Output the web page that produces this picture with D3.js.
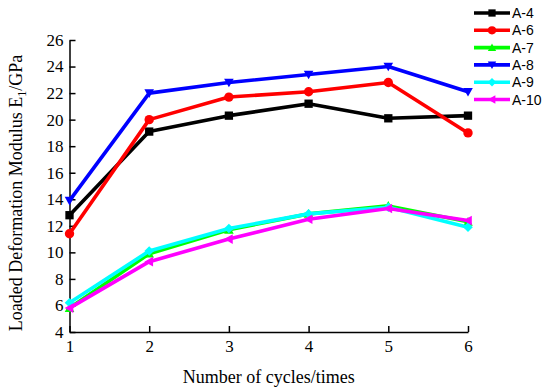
<!DOCTYPE html>
<html>
<head>
<meta charset="utf-8">
<script src="https://cdn.jsdelivr.net/npm/d3@7"></script>
<style>
  body { margin: 0; background: #fff; }
  svg { display: block; }
</style>
</head>
<body>
<div id="chart"></div>
<script>
// data
var cycles = [1, 2, 3, 4, 5, 6];
var a4  = [12.8, 19.1, 20.3, 21.2, 20.1, 20.3];
var a6  = [11.4, 20.0, 21.7, 22.1, 22.8, 19.0];
var a7  = [5.8, 9.9, 11.7, 12.9, 13.5, 12.3];
var a8  = [13.9, 22.0, 22.8, 23.4, 24.0, 22.1];
var a9  = [6.2, 10.1, 11.8, 12.9, 13.4, 11.9];
var a10 = [5.8, 9.3, 11.0, 12.5, 13.3, 12.4];
var yTicks = [4, 6, 8, 10, 12, 14, 16, 18, 20, 22, 24, 26];

var series = [
  { name: 'A-4',  values: a4,  color: '#000000', marker: d3.symbolSquare },
  { name: 'A-6',  values: a6,  color: '#ff0000', marker: d3.symbolCircle },
  { name: 'A-7',  values: a7,  color: '#00ff00', marker: 'tri-up' },
  { name: 'A-8',  values: a8,  color: '#0000ff', marker: 'tri-down' },
  { name: 'A-9',  values: a9,  color: '#00ffff', marker: 'diamond' },
  { name: 'A-10', values: a10, color: '#ff00ff', marker: 'tri-left' }
];

var width = 550, height = 390;
var margin = { top: 40, right: 82, bottom: 58, left: 69.5 };
var serif = '"Liberation Serif", "Times New Roman", serif';

var svg = d3.select('#chart')
  .append('svg')
  .attr('width', width)
  .attr('height', height);

var x = d3.scaleLinear().domain([1, 6]).range([margin.left, width - margin.right]);
var y = d3.scaleLinear().domain([4, 26]).range([height - margin.bottom, margin.top]);

// axes, ticks pointing inward
var xAxis = svg.append('g')
  .attr('transform', 'translate(0,' + (height - margin.bottom) + ')')
  .call(d3.axisBottom(x).tickValues(cycles).tickFormat(d3.format('d')).tickSizeInner(-6).tickSizeOuter(0).tickPadding(8));

var yAxis = svg.append('g')
  .attr('transform', 'translate(' + margin.left + ',0)')
  .call(d3.axisLeft(y).tickValues(yTicks).tickSizeInner(-6).tickSizeOuter(0).tickPadding(6));

[xAxis, yAxis].forEach(function(a) {
  a.select('.domain').attr('stroke', '#000').attr('stroke-width', 1.5);
  a.selectAll('.tick line').attr('stroke', '#000').attr('stroke-width', 1.5);
  a.selectAll('.tick text')
    .attr('fill', '#000')
    .style('font-family', serif)
    .style('font-size', '17px');
});

// axis titles
svg.append('text')
  .attr('x', (x(1) + x(6)) / 2)
  .attr('y', 383)
  .attr('text-anchor', 'middle')
  .style('font-family', serif)
  .style('font-size', '18px')
  .text('Number of cycles/times');

var yTitle = svg.append('text')
  .attr('transform', 'translate(22,' + ((y(4) + y(26)) / 2 + 7) + ') rotate(-90)')
  .attr('text-anchor', 'middle')
  .style('font-family', serif)
  .style('font-size', '18px');
yTitle.append('tspan').text('Loaded Deformation Modulus E');
yTitle.append('tspan').attr('dy', 4).style('font-size', '12px').text('1');
yTitle.append('tspan').attr('dy', -4).text('/GPa');

// marker shapes
function markerPath(m, s) {
  if (m === 'tri-up') return 'M0,' + (-s) + 'L' + s + ',' + (s * 0.8) + 'L' + (-s) + ',' + (s * 0.8) + 'Z';
  if (m === 'tri-down') return 'M0,' + s + 'L' + s + ',' + (-s * 0.8) + 'L' + (-s) + ',' + (-s * 0.8) + 'Z';
  if (m === 'tri-left') return 'M' + (-s) + ',0L' + (s * 0.8) + ',' + (-s) + 'L' + (s * 0.8) + ',' + s + 'Z';
  if (m === 'diamond') return 'M0,' + (-s) + 'L' + s + ',0L0,' + s + 'L' + (-s) + ',0Z';
  return d3.symbol().type(m).size(s * s * 3)();
}

var line = d3.line()
  .x(function(d, i) { return x(cycles[i]); })
  .y(function(d) { return y(d); });

var groups = svg.selectAll('g.series')
  .data(series)
  .enter()
  .append('g')
  .attr('class', 'series');

groups.append('path')
  .attr('d', function(d) { return line(d.values); })
  .attr('fill', 'none')
  .attr('stroke', function(d) { return d.color; })
  .attr('stroke-width', 3.6)
  .attr('stroke-linejoin', 'round');

groups.each(function(s) {
  d3.select(this).selectAll('path.mk')
    .data(s.values)
    .enter()
    .append('path')
    .attr('class', 'mk')
    .attr('transform', function(d, i) { return 'translate(' + x(cycles[i]) + ',' + y(d) + ')'; })
    .attr('d', markerPath(s.marker, 4.8))
    .attr('fill', s.color);
});

// legend
var legend = svg.append('g').attr('transform', 'translate(474,13)');
var rows = legend.selectAll('g')
  .data(series)
  .enter()
  .append('g')
  .attr('transform', function(d, i) { return 'translate(0,' + (i * 17.3) + ')'; });

rows.append('line')
  .attr('x1', 0).attr('x2', 36)
  .attr('stroke', function(d) { return d.color; })
  .attr('stroke-width', 3.6);

rows.append('path')
  .attr('transform', 'translate(18,0)')
  .attr('d', function(d) { return markerPath(d.marker, 4.2); })
  .attr('fill', function(d) { return d.color; });

rows.append('text')
  .attr('x', 38)
  .attr('dy', '0.36em')
  .style('font-family', '"Liberation Sans", Arial, sans-serif')
  .style('font-size', '14px')
  .text(function(d) { return d.name; });
</script>
</body>
</html>
